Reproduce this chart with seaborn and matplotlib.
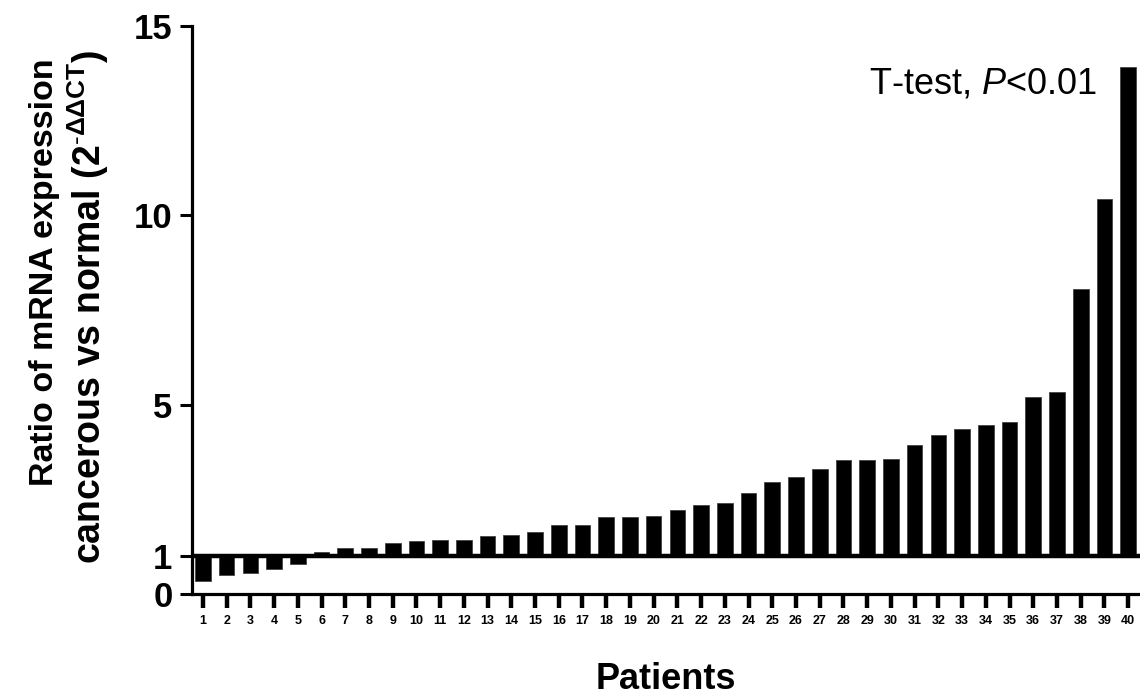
import matplotlib
matplotlib.use("Agg")
import matplotlib.pyplot as plt
import seaborn as sns
import pandas as pd
import numpy as np

# ---- data ----
patients = [str(i) for i in range(1, 41)]
ratio = [0.34, 0.50, 0.56, 0.67, 0.79, 1.12, 1.22, 1.22, 1.34, 1.39,
         1.42, 1.42, 1.52, 1.57, 1.63, 1.81, 1.83, 2.03, 2.03, 2.05,
         2.22, 2.36, 2.39, 2.66, 2.95, 3.10, 3.31, 3.53, 3.53, 3.57,
         3.94, 4.20, 4.35, 4.45, 4.53, 5.20, 5.33, 8.06, 10.42, 13.93]
baseline = 1.0
y_ticks = [0, 1, 5, 10, 15]

sns.set_theme(style="ticks")
plt.rcParams['font.family'] = ['Liberation Sans', 'DejaVu Sans']
plt.rcParams['mathtext.fontset'] = 'custom'
plt.rcParams['mathtext.rm'] = 'Liberation Sans'
plt.rcParams['mathtext.bf'] = 'Liberation Sans:bold'
plt.rcParams['mathtext.it'] = 'Liberation Sans:italic'
for k in ['text.color', 'axes.labelcolor', 'xtick.color', 'ytick.color', 'axes.edgecolor']:
    plt.rcParams[k] = 'black'

df = pd.DataFrame({"Patient": patients,
                   "Delta": np.array(ratio) - baseline})

fig = plt.figure(figsize=(11.4, 6.98), dpi=100)
ax = fig.add_axes([192/1140, 1-594/698, (1140-192)/1140, (594-26)/698])

sns.barplot(data=df, x="Patient", y="Delta", order=patients, ax=ax,
            color="black", saturation=1, width=0.66, bottom=baseline,
            edgecolor="#444444", linewidth=0.6, errorbar=None)

ax.axhline(baseline, color="black", lw=3.2, zorder=5)

ax.set_xlim(-0.46, 39.5)
ax.set_ylim(0, 15)
ax.set_yticks(y_ticks)
ax.set_yticklabels([str(t) for t in y_ticks], fontsize=25, fontweight='bold')
ax.set_xticks(range(len(patients)))
ax.set_xticklabels(patients, fontsize=9, fontweight='bold')

for s in ["top", "right"]:
    ax.spines[s].set_visible(False)
ax.spines["left"].set_linewidth(2.3)
ax.spines["bottom"].set_linewidth(2.3)
ax.tick_params(axis='x', direction='out', length=10, width=3.2, pad=5, colors='black')
ax.tick_params(axis='y', direction='out', length=9, width=2.2, pad=5, colors='black')

ax.set_ylabel("")
ax.set_xlabel("Patients", fontsize=26, fontweight='bold', labelpad=25)

fig.text(45/1140, 1-272/698, "Ratio of mRNA expression", rotation=90,
         ha='center', va='center', fontsize=24.5, fontweight='bold')
fig.text(88/1140, 1-307/698, r"cancerous vs normal (2$^{\mathbf{\text{-}ΔΔCT}}$)", rotation=90,
         ha='center', va='center', fontsize=27, fontweight='bold')

fig.text(983/1140, 1-93/698, r"T-test, $\mathit{P}$<0.01", ha='center', va='baseline',
         fontsize=26)

fig.savefig("out.png", dpi=100)
